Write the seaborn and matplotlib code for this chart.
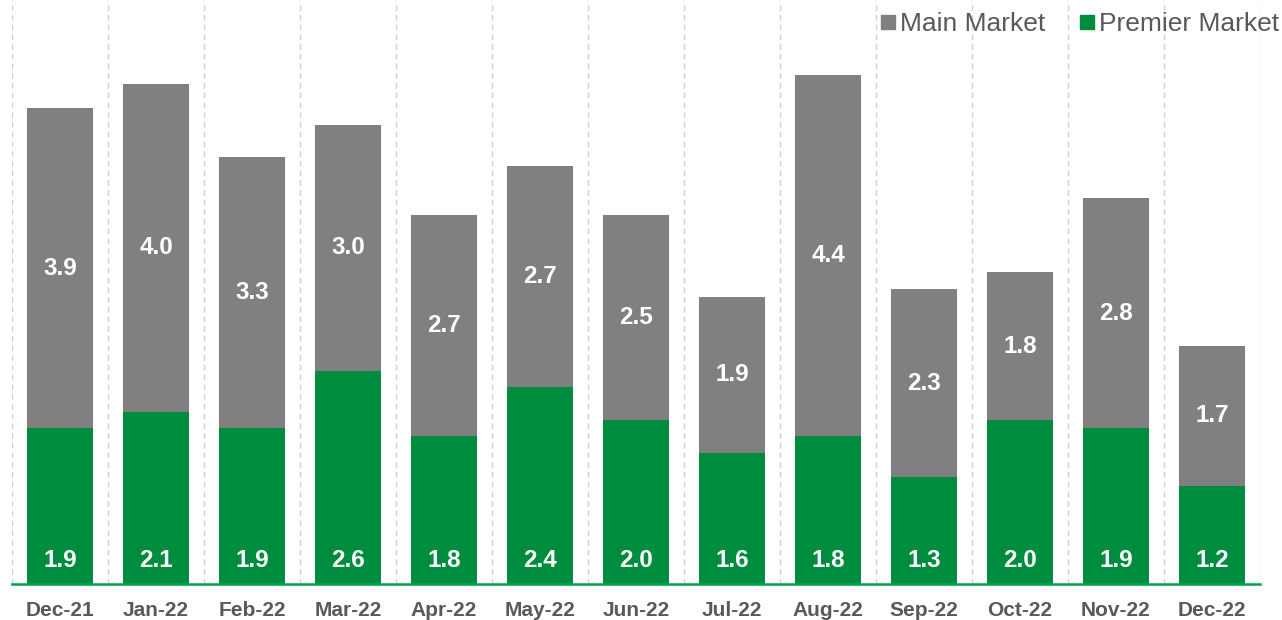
import matplotlib
matplotlib.use("Agg")
import matplotlib.pyplot as plt
import seaborn as sns
import pandas as pd
from matplotlib.lines import Line2D

months = ["Dec-21", "Jan-22", "Feb-22", "Mar-22", "Apr-22", "May-22", "Jun-22",
          "Jul-22", "Aug-22", "Sep-22", "Oct-22", "Nov-22", "Dec-22"]
premier = [1.9, 2.1, 1.9, 2.6, 1.8, 2.4, 2.0, 1.6, 1.8, 1.3, 2.0, 1.9, 1.2]
main = [3.9, 4.0, 3.3, 3.0, 2.7, 2.7, 2.5, 1.9, 4.4, 2.3, 1.8, 2.8, 1.7]

GREEN = "#008C3E"
GRAY = "#808080"
TXT = "#595959"

sns.set_theme(style="white")
plt.rcParams["font.family"] = ["Liberation Sans", "DejaVu Sans"]

df = pd.DataFrame({"month": months, "premier": premier, "main": main})
df["total"] = df["premier"] + df["main"]

fig = plt.figure(figsize=(12.82, 6.2), dpi=100)
ax = fig.add_axes([12 / 1282, 36 / 620, 1248 / 1282, 584 / 620])

sns.barplot(data=df, x="month", y="total", color=GRAY, width=0.68,
            saturation=1, ax=ax, edgecolor="none")
sns.barplot(data=df, x="month", y="premier", color=GREEN, width=0.68,
            saturation=1, ax=ax, edgecolor="none")

ax.set_xlim(-0.5, len(months) - 0.5)
ax.set_ylim(0, 7.12)
ax.set_xlabel("")
ax.set_ylabel("")
ax.set_yticks([])

for s in ["top", "right", "left"]:
    ax.spines[s].set_visible(False)
ax.spines["bottom"].set_color("#00A050")
ax.spines["bottom"].set_linewidth(1.8)

for b in range(len(months) + 1):
    ax.axvline(b - 0.5, color="#D0D0D0", lw=1, ls=(0, (4, 3)), zorder=0)

for i, (p, m) in enumerate(zip(premier, main)):
    ax.text(i, 0.29, f"{p:.1f}", ha="center", va="center", color="white",
            fontsize=17.5, fontweight="bold")
    ax.text(i, p + m / 2, f"{m:.1f}", ha="center", va="center", color="white",
            fontsize=17.5, fontweight="bold")

ax.tick_params(axis="x", length=0, pad=12)
for lab in ax.get_xticklabels():
    lab.set_fontsize(15)
    lab.set_fontweight("bold")
    lab.set_color(TXT)

handles = [Line2D([], [], marker="s", ls="", color=GRAY, markersize=10),
           Line2D([], [], marker="s", ls="", color=GREEN, markersize=10)]
fig.legend(handles, ["Main Market", "Premier Market"], loc="upper right",
           bbox_to_anchor=(1.010, 1.006), ncol=2, frameon=False, fontsize=19,
           labelcolor=TXT, handlelength=0.6, handletextpad=0.15,
           columnspacing=1.3, borderaxespad=0.2)

fig.savefig("out.png", dpi=100)
